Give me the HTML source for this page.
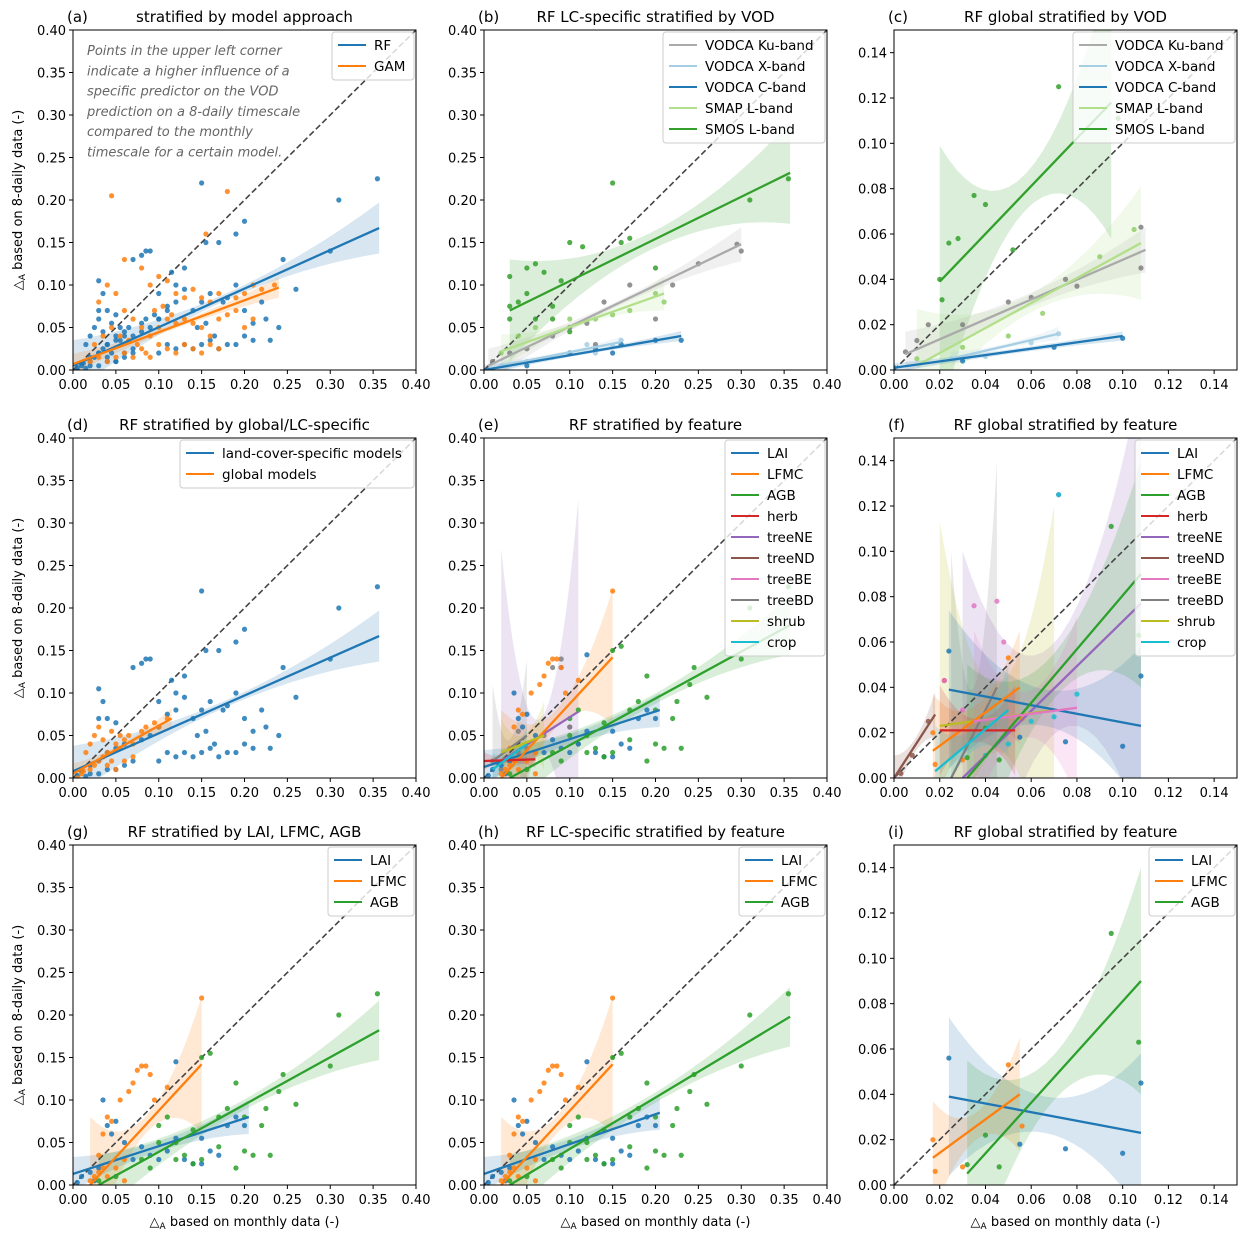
<!DOCTYPE html>
<html><head><meta charset="utf-8">
<style>
html,body{margin:0;background:#fff;width:1249px;height:1241px;overflow:hidden;}
svg{display:block;font-family:"DejaVu Sans","Liberation Sans",sans-serif;}
</style></head>
<body>
<svg id="fig" width="1249" height="1241" viewBox="0 0 1249 1241" xmlns="http://www.w3.org/2000/svg"></svg>
<script>
// ---------- data ----------
const lcPts=[[0.355,0.225],[0.31,0.2],[0.15,0.22],[0.3,0.14],[0.2,0.175],[0.19,0.16],[0.17,0.15],[0.155,0.15],[0.13,0.12],[0.115,0.115],[0.09,0.14],[0.085,0.14],[0.08,0.135],[0.07,0.13],[0.03,0.105],[0.035,0.09],[0.04,0.07],[0.03,0.07],[0.05,0.065],[0.12,0.1],[0.1,0.09],[0.13,0.095],[0.16,0.09],[0.18,0.085],[0.175,0.08],[0.19,0.1],[0.2,0.07],[0.245,0.13],[0.26,0.095],[0.22,0.08],[0.15,0.08],[0.14,0.07],[0.12,0.08],[0.11,0.075],[0.1,0.06],[0.09,0.05],[0.08,0.045],[0.06,0.04],[0.05,0.035],[0.04,0.03],[0.03,0.02],[0.02,0.015],[0.01,0.008],[0.005,0.003],[0.13,0.03],[0.14,0.025],[0.15,0.03],[0.16,0.035],[0.17,0.025],[0.18,0.03],[0.12,0.025],[0.11,0.03],[0.2,0.04],[0.21,0.035],[0.23,0.035],[0.225,0.06],[0.24,0.05],[0.19,0.03],[0.1,0.02],[0.07,0.02],[0.06,0.015],[0.05,0.01],[0.145,0.05],[0.155,0.055],[0.165,0.04],[0.21,0.055],[0.02,0.005],[0.015,0.002],[0.03,0.005],[0.04,0.01]];
const glPts=[[0.01,0.005],[0.02,0.01],[0.025,0.015],[0.03,0.02],[0.035,0.025],[0.04,0.03],[0.045,0.02],[0.05,0.04],[0.055,0.035],[0.06,0.045],[0.065,0.05],[0.07,0.04],[0.08,0.055],[0.085,0.06],[0.095,0.065],[0.1,0.06],[0.11,0.07],[0.02,0.04],[0.025,0.05],[0.03,0.06],[0.035,0.045],[0.015,0.03],[0.04,0.015],[0.05,0.01],[0.06,0.02],[0.07,0.025],[0.005,0.0],[0.012,0.008],[0.045,0.055],[0.055,0.05]];
const gamPts=[[0.045,0.205],[0.18,0.21],[0.155,0.16],[0.06,0.13],[0.08,0.12],[0.1,0.11],[0.09,0.1],[0.11,0.105],[0.12,0.09],[0.13,0.085],[0.14,0.095],[0.15,0.085],[0.16,0.08],[0.17,0.09],[0.19,0.085],[0.2,0.09],[0.21,0.1],[0.22,0.095],[0.235,0.1],[0.05,0.09],[0.04,0.1],[0.03,0.08],[0.06,0.07],[0.07,0.06],[0.08,0.05],[0.09,0.04],[0.1,0.03],[0.11,0.025],[0.12,0.02],[0.13,0.03],[0.14,0.025],[0.15,0.02],[0.16,0.03],[0.17,0.06],[0.18,0.065],[0.19,0.07],[0.2,0.05],[0.21,0.06],[0.06,0.02],[0.05,0.015],[0.04,0.01],[0.03,0.015],[0.02,0.01],[0.07,0.015],[0.08,0.025],[0.09,0.015],[0.1,0.05],[0.11,0.06],[0.12,0.055],[0.13,0.06],[0.14,0.055],[0.15,0.05],[0.025,0.03],[0.035,0.04],[0.045,0.05],[0.055,0.04],[0.065,0.035],[0.075,0.03],[0.085,0.02],[0.095,0.07],[0.105,0.075],[0.115,0.065],[0.16,0.04],[0.17,0.025]];
const laiPts=[[0.005,0.003],[0.01,0.01],[0.02,0.015],[0.03,0.02],[0.035,0.1],[0.04,0.07],[0.045,0.06],[0.05,0.075],[0.06,0.05],[0.08,0.045],[0.1,0.03],[0.12,0.145],[0.12,0.055],[0.13,0.03],[0.14,0.025],[0.15,0.025],[0.16,0.04],[0.17,0.035],[0.18,0.07],[0.19,0.08],[0.2,0.07],[0.15,0.055],[0.11,0.04],[0.09,0.035],[0.07,0.03],[0.025,0.005]];
const lfmcPts=[[0.02,0.005],[0.025,0.01],[0.03,0.035],[0.035,0.06],[0.04,0.08],[0.045,0.075],[0.05,0.02],[0.055,0.1],[0.06,0.03],[0.065,0.11],[0.07,0.12],[0.075,0.135],[0.08,0.14],[0.085,0.14],[0.09,0.13],[0.095,0.1],[0.15,0.22],[0.11,0.115],[0.03,0.015],[0.04,0.01],[0.06,0.005],[0.035,0.02]];
const agbPts=[[0.03,0.005],[0.05,0.01],[0.1,0.07],[0.11,0.08],[0.12,0.03],[0.13,0.035],[0.14,0.065],[0.15,0.15],[0.16,0.155],[0.17,0.08],[0.18,0.09],[0.19,0.02],[0.2,0.04],[0.21,0.035],[0.22,0.07],[0.23,0.035],[0.225,0.09],[0.24,0.11],[0.26,0.095],[0.3,0.14],[0.31,0.2],[0.355,0.225],[0.245,0.13],[0.14,0.025],[0.12,0.05],[0.09,0.02],[0.08,0.03],[0.15,0.03],[0.17,0.045],[0.2,0.08],[0.19,0.12],[0.1,0.05]];
const smosB=[[0.03,0.11],[0.03,0.075],[0.04,0.08],[0.05,0.12],[0.06,0.125],[0.07,0.115],[0.08,0.075],[0.09,0.105],[0.1,0.15],[0.115,0.145],[0.15,0.22],[0.16,0.15],[0.17,0.155],[0.2,0.12],[0.31,0.2],[0.355,0.225],[0.05,0.09],[0.08,0.06],[0.1,0.045],[0.06,0.06],[0.03,0.06]];
const kuB=[[0.01,0.01],[0.03,0.02],[0.05,0.025],[0.08,0.04],[0.1,0.05],[0.12,0.055],[0.14,0.08],[0.17,0.1],[0.22,0.1],[0.25,0.125],[0.3,0.14],[0.295,0.148],[0.13,0.03],[0.2,0.06]];
const xB=[[0.02,0.005],[0.05,0.01],[0.08,0.015],[0.1,0.02],[0.12,0.03],[0.15,0.028],[0.16,0.035],[0.13,0.02]];
const cB=[[0.005,0.0],[0.05,0.005],[0.1,0.02],[0.13,0.025],[0.16,0.03],[0.2,0.035],[0.23,0.035],[0.15,0.02]];
const smapB=[[0.02,0.02],[0.04,0.04],[0.06,0.05],[0.1,0.06],[0.13,0.06],[0.15,0.065],[0.2,0.09],[0.21,0.08],[0.17,0.07]];
const smosC=[[0.021,0.031],[0.024,0.056],[0.028,0.058],[0.035,0.077],[0.04,0.073],[0.052,0.053],[0.072,0.125],[0.098,0.111],[0.02,0.04]];
const kuC=[[0.005,0.008],[0.01,0.013],[0.015,0.02],[0.03,0.02],[0.05,0.03],[0.06,0.032],[0.075,0.04],[0.08,0.037],[0.108,0.063],[0.108,0.045]];
const smapC=[[0.01,0.005],[0.03,0.01],[0.05,0.015],[0.065,0.025],[0.105,0.062],[0.09,0.05]];
const xC=[[0.025,0.005],[0.04,0.006],[0.06,0.012],[0.072,0.016]];
const cC=[[0,0.001],[0.03,0.004],[0.07,0.01],[0.1,0.014]];
const laiI=[[0.024,0.056],[0.055,0.018],[0.075,0.016],[0.1,0.014],[0.108,0.045]];
const lfmcI=[[0.017,0.02],[0.018,0.006],[0.03,0.008],[0.05,0.053],[0.056,0.026]];
const agbI=[[0.032,0.009],[0.04,0.022],[0.046,0.008],[0.095,0.111],[0.107,0.063]];
const otherF=[[0.003,0.002],[0.008,0.01],[0.015,0.025],[0.022,0.043],[0.03,0.03],[0.035,0.076],[0.045,0.078],[0.048,0.06],[0.06,0.025],[0.07,0.027],[0.072,0.125],[0.08,0.037],[0.04,0.01],[0.05,0.015]];
const otherE=[[0.03,0.02],[0.04,0.03],[0.05,0.035],[0.06,0.03],[0.08,0.13],[0.09,0.14],[0.1,0.06],[0.07,0.05],[0.04,0.055],[0.02,0.01],[0.01,0.02],[0.11,0.04]];

const C={blue:'#1f77b4',orange:'#ff7f0e',green:'#2ca02c',red:'#d62728',purple:'#9467bd',brown:'#8c564b',pink:'#e377c2',grey:'#7f7f7f',olive:'#bcbd22',cyan:'#17becf',ku:'#aaaaaa',x:'#a6cee3',c:'#1f78b4',smap:'#b2df8a',smos:'#33a02c'};
const featLeg=[['LAI',C.blue],['LFMC',C.orange],['AGB',C.green],['herb',C.red],['treeNE',C.purple],['treeND',C.brown],['treeBE',C.pink],['treeBD',C.grey],['shrub',C.olive],['crop',C.cyan]];
const vodLeg=[['VODCA Ku-band',C.ku],['VODCA X-band',C.x],['VODCA C-band',C.c],['SMAP L-band',C.smap],['SMOS L-band',C.smos]];

const panels=[
 {id:'a',title:'stratified by model approach',row:0,col:0,max:0.4,leg:[['RF',C.blue],['GAM',C.orange]],legW:82,
  s:[['rf',C.blue,lcPts.concat(glPts),C.blue,[0,0.005,0.357,0.167],[0.004,0.03]],['gam',C.orange,gamPts,C.orange,[0,0.007,0.24,0.097],[0.003,0.012]]]},
 {id:'b',title:'RF LC-specific stratified by VOD',row:0,col:1,max:0.4,leg:vodLeg,legW:162,
  s:[['smos',C.smos,smosB,C.smos,[0.03,0.07,0.357,0.232],[0.01,0.06]],['ku',C.ku,kuB,'#808080',[0.005,0.005,0.3,0.148],[0.003,0.02]],['x',C.x,xB,C.x,[0.02,0.005,0.16,0.033],[0.002,0.006]],['c',C.c,cB,C.c,[0,0,0.23,0.04],[0.002,0.006]],['smap',C.smap,smapB,'#8fcf6a',[0.02,0.022,0.21,0.09],[0.003,0.02]]]},
 {id:'c',title:'RF global stratified by VOD',row:0,col:2,max:0.15,leg:vodLeg,legW:162,
  s:[['smos',C.smos,smosC,C.smos,[0.02,0.039,0.095,0.118],[0.008,0.06]],['ku',C.ku,kuC,'#808080',[0.005,0.007,0.11,0.053],[0.003,0.01]],['smap',C.smap,smapC,'#8fcf6a',[0.01,0.002,0.108,0.056],[0.004,0.025]],['x',C.x,xC,C.x,[0.025,0.005,0.072,0.016],[0.001,0.003]],['c',C.c,cC,C.c,[0,0.001,0.1,0.015],[0.001,0.002]]]},
 {id:'d',title:'RF stratified by global/LC-specific',row:1,col:0,max:0.4,leg:[['land-cover-specific models',C.blue],['global models',C.orange]],legW:234,
  s:[['lc',C.blue,lcPts,C.blue,[0,0.008,0.357,0.167],[0.004,0.03]],['gl',C.orange,glPts,C.orange,[0,0.005,0.115,0.07],[0.003,0.012]]]},
 {id:'e',title:'RF stratified by feature',row:1,col:1,max:0.4,leg:featLeg,legW:100,
  s:[['treeNE',C.purple,[[0.09,0.13],[0.1,0.06]],C.purple,[0.02,0.02,0.11,0.078],[0.02,0.25]],['treeBD',C.grey,otherE,C.grey,[0.01,0.02,0.05,0.05],[0.01,0.09]],['lai',C.blue,laiPts,C.blue,[0,0.013,0.205,0.08],[0.006,0.02]],['lfmc',C.orange,lfmcPts,C.orange,[0.02,0,0.15,0.142],[0.01,0.08]],['agb',C.green,agbPts,C.green,[0.03,0,0.357,0.18],[0.006,0.035]],['herb',C.red,[],C.red,[0,0.02,0.06,0.022],[0.003,0.01]],['crop',C.cyan,[],C.cyan,[0.01,0.01,0.05,0.04],[0.005,0.02]],['shrub',C.olive,[],C.olive,[0.02,0.03,0.07,0.05],[0.01,0.04]]]},
 {id:'f',title:'RF global stratified by feature',row:1,col:2,max:0.15,leg:featLeg,legW:100,
  s:[['treeBD',C.grey,[],C.grey,[0.025,0.0,0.045,0.04],[0.02,0.1]],['treeNE',C.purple,[[0.072,0.125]],C.purple,[0.03,0.0,0.108,0.077],[0.02,0.1]],['shrub',C.olive,[],C.olive,[0.02,0.023,0.07,0.03],[0.015,0.09]],['lai',C.blue,laiI,C.blue,[0.024,0.039,0.108,0.023],[0.008,0.035]],['lfmc',C.orange,lfmcI,C.orange,[0.017,0.012,0.055,0.04],[0.006,0.025]],['agb',C.green,agbI,C.green,[0.032,0.0,0.108,0.09],[0.01,0.05]],['herb',C.red,[[0.022,0.043]],C.red,[0.02,0.021,0.053,0.021],[0.005,0.02]],['treeND',C.brown,otherF.slice(0,3),C.brown,[0.0,0.0,0.018,0.028],[0.003,0.01]],['treeBE',C.pink,otherF.slice(3,8),C.pink,[0.035,0.025,0.08,0.031],[0.01,0.04]],['crop',C.cyan,otherF.slice(8),C.cyan,[0.018,0.003,0.05,0.03],[0.005,0.02]]]},
 {id:'g',title:'RF stratified by LAI, LFMC, AGB',row:2,col:0,max:0.4,leg:featLeg.slice(0,3),legW:86,
  s:[['lai',C.blue,laiPts,C.blue,[0,0.013,0.205,0.08],[0.006,0.02]],['lfmc',C.orange,lfmcPts,C.orange,[0.02,0,0.15,0.142],[0.01,0.08]],['agb',C.green,agbPts,C.green,[0.03,0,0.357,0.182],[0.006,0.035]]]},
 {id:'h',title:'RF LC-specific stratified by feature',row:2,col:1,max:0.4,leg:featLeg.slice(0,3),legW:86,
  s:[['lai',C.blue,laiPts,C.blue,[0,0.013,0.205,0.085],[0.006,0.02]],['lfmc',C.orange,lfmcPts,C.orange,[0.02,0,0.15,0.142],[0.01,0.08]],['agb',C.green,agbPts,C.green,[0.03,0,0.357,0.198],[0.006,0.035]]]},
 {id:'i',title:'RF global stratified by feature',row:2,col:2,max:0.15,leg:featLeg.slice(0,3),legW:86,
  s:[['lai',C.blue,laiI,C.blue,[0.024,0.039,0.108,0.023],[0.008,0.035]],['lfmc',C.orange,lfmcI,C.orange,[0.017,0.012,0.055,0.04],[0.006,0.025]],['agb',C.green,agbI,C.green,[0.032,0.005,0.108,0.09],[0.01,0.05]]]}
];

// ---------- drawing ----------
const NS='http://www.w3.org/2000/svg';
const svg=document.getElementById('fig');
function mk(tag,attrs,parent){const e=document.createElementNS(NS,tag);for(const k in attrs)e.setAttribute(k,attrs[k]);(parent||svg).appendChild(e);return e;}
const colL=[73,484,894], rowT=[30,438,845], W=343, H=340;

panels.forEach(p=>{
 const L=colL[p.col], T=rowT[p.row], max=p.max;
 const g=mk('g',{});
 
 
 const sx=v=>L+v/max*W, sy=v=>T+H-v/max*H;
 const cp=mk('clipPath',{id:'cp'+p.id},g); mk('rect',{x:L,y:T,width:W,height:H},cp);
 const plot=mk('g',{'clip-path':'url(#cp'+p.id+')'},g);
 p.s.forEach(s=>{
  const [x0,y0,x1,y1]=s[4],[wmin,wend]=s[5];
  const up=[],lo=[],n=20;
  for(let i=0;i<=n;i++){const x=x0+(x1-x0)*i/n,y=y0+(y1-y0)*i/n,t=(i/n-0.5)*2,h=wmin+(wend-wmin)*t*t;up.push(sx(x)+','+sy(y+h));lo.unshift(sx(x)+','+sy(Math.max(y-h,-1)));}
  const b=mk('polygon',{points:up.concat(lo).join(' '),fill:s[1],opacity:0.18},plot);
  
  
 });
 const dl=mk('line',{x1:sx(0),y1:sy(0),x2:sx(max),y2:sy(max),stroke:'#444',
  'stroke-width':1.6,'stroke-dasharray':'6,3'},plot);
 
 
 p.s.forEach(s=>{
  s[2].forEach(pt=>{
   const c=mk('circle',{cx:sx(pt[0]),cy:sy(pt[1]),r:2.6,fill:s[3],opacity:0.85},plot);
   
   
  });
 });
 p.s.forEach(s=>{
  const [x0,y0,x1,y1]=s[4];
  const l=mk('line',{x1:sx(x0),y1:sy(y0),x2:sx(x1),y2:sy(y1),stroke:s[1],'stroke-width':2.3},plot);
  
  
 });
 const fr=mk('rect',{x:L,y:T,width:W,height:H,fill:'none',stroke:'#000','stroke-width':1},g);
 
 
 const step=max>0.2?0.05:0.02, nt=Math.floor(max/step+1e-6);
 for(let i=0;i<=nt;i++){
  const v=i*step, lab=v.toFixed(2);
  mk('line',{x1:sx(v),y1:T+H,x2:sx(v),y2:T+H+4,stroke:'#000'},g);
  const tx=mk('text',{x:sx(v),y:T+H+19,'font-size':13,'text-anchor':'middle'},g); tx.textContent=lab;
  
  
  mk('line',{x1:L-4,y1:sy(v),x2:L,y2:sy(v),stroke:'#000'},g);
  const ty=mk('text',{x:L-7,y:sy(v)+5,'font-size':13,'text-anchor':'end'},g); ty.textContent=lab;
  
  
 }
 const tl=mk('text',{x:L-6,y:T-8,'font-size':15},g); tl.textContent='('+p.id+')';
 
 
 const tt=mk('text',{x:L+W/2,y:T-8,'font-size':15,'text-anchor':'middle'},g); tt.textContent=p.title;
 
 
 const lg=mk('g',{},g);
 
 
 const lw=p.legW, lh=p.leg.length*21+6, lx=L+W-lw-2, ly=T+2;
 mk('rect',{x:lx,y:ly,width:lw,height:lh,rx:3,fill:'#fff','fill-opacity':0.8,stroke:'#ccc'},lg);
 p.leg.forEach((e,i)=>{
  const yy=ly+13+i*21;
  mk('line',{x1:lx+6,y1:yy,x2:lx+34,y2:yy,stroke:e[1],'stroke-width':2},lg);
  const t=mk('text',{x:lx+42,y:yy+5,'font-size':13.5},lg); t.textContent=e[0];
  
  
 });
 if(p.col===0){
  const yl=mk('text',{transform:'translate(22,'+(T+H/2)+') rotate(-90)','font-size':13,'text-anchor':'middle'},g);
  yl.innerHTML='△<tspan font-size="9" dy="3">A</tspan><tspan dy="-3"> based on 8-daily data (-)</tspan>';
  
  
 }
 if(p.row===2){
  const xl=mk('text',{x:L+W/2,y:1226,'font-size':13,'text-anchor':'middle'},g);
  xl.innerHTML='△<tspan font-size="9" dy="3">A</tspan><tspan dy="-3"> based on monthly data (-)</tspan>';
  
  
 }
});
const note=['Points in the upper left corner','indicate a higher influence of a','specific predictor on the VOD','prediction on a 8-daily timescale','compared to the monthly','timescale for a certain model.'];
const ng=mk('g',{});


note.forEach((s,i)=>{const t=mk('text',{x:87,y:55+i*20.3,'font-size':13,'font-style':'italic',fill:'#666'},ng);t.textContent=s;});
</script>
</body></html>
